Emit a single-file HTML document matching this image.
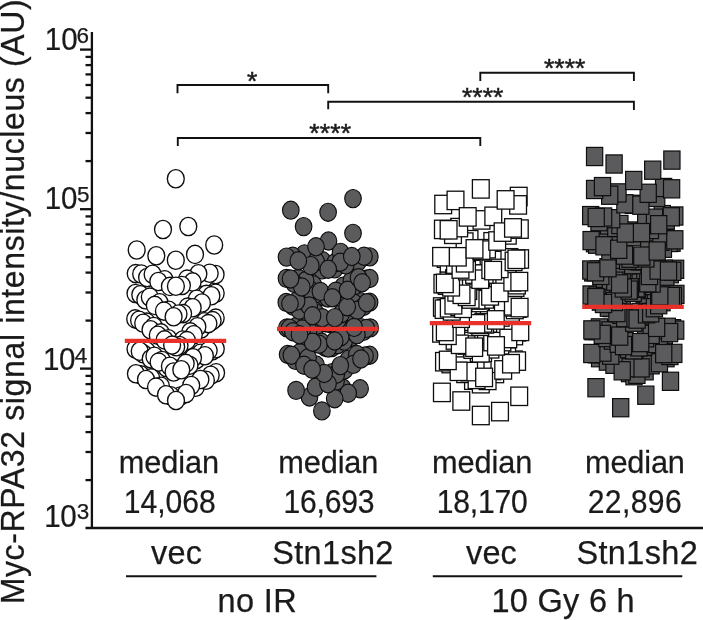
<!DOCTYPE html>
<html lang="en"><head><meta charset="utf-8"><title>Myc-RPA32 signal intensity</title>
<style>html,body{margin:0;padding:0;background:#fff}svg{display:block}svg text{font-family:"Liberation Sans",sans-serif;stroke:#1a1a1a;stroke-width:.25px}</style></head>
<body>
<svg width="703" height="620" viewBox="0 0 703 620" fill="#1a1a1a">
<rect width="703" height="620" fill="#fff"/>
<g id="g1">
<ellipse cx="175.8" cy="178.7" rx="8.45" ry="9.15" fill="#fff" stroke="#0d0d0d" stroke-width="1.35"/>
<ellipse cx="163.0" cy="229.5" rx="8.45" ry="9.15" fill="#fff" stroke="#0d0d0d" stroke-width="1.35"/>
<ellipse cx="188.3" cy="226.5" rx="8.45" ry="9.15" fill="#fff" stroke="#0d0d0d" stroke-width="1.35"/>
<ellipse cx="214.2" cy="245.0" rx="8.45" ry="9.15" fill="#fff" stroke="#0d0d0d" stroke-width="1.35"/>
<ellipse cx="136.7" cy="250.0" rx="8.45" ry="9.15" fill="#fff" stroke="#0d0d0d" stroke-width="1.35"/>
<ellipse cx="195.0" cy="254.4" rx="8.45" ry="9.15" fill="#fff" stroke="#0d0d0d" stroke-width="1.35"/>
<ellipse cx="175.8" cy="260.2" rx="8.45" ry="9.15" fill="#fff" stroke="#0d0d0d" stroke-width="1.35"/>
<ellipse cx="156.3" cy="255.7" rx="8.45" ry="9.15" fill="#fff" stroke="#0d0d0d" stroke-width="1.35"/>
<ellipse cx="135.7" cy="273.6" rx="8.45" ry="9.15" fill="#fff" stroke="#0d0d0d" stroke-width="1.35"/>
<ellipse cx="141.2" cy="274.0" rx="8.45" ry="9.15" fill="#fff" stroke="#0d0d0d" stroke-width="1.35"/>
<ellipse cx="215.6" cy="274.5" rx="8.45" ry="9.15" fill="#fff" stroke="#0d0d0d" stroke-width="1.35"/>
<ellipse cx="147.1" cy="277.5" rx="8.45" ry="9.15" fill="#fff" stroke="#0d0d0d" stroke-width="1.35"/>
<ellipse cx="152.6" cy="274.3" rx="8.45" ry="9.15" fill="#fff" stroke="#0d0d0d" stroke-width="1.35"/>
<ellipse cx="204.5" cy="278.0" rx="8.45" ry="9.15" fill="#fff" stroke="#0d0d0d" stroke-width="1.35"/>
<ellipse cx="209.7" cy="273.3" rx="8.45" ry="9.15" fill="#fff" stroke="#0d0d0d" stroke-width="1.35"/>
<ellipse cx="198.4" cy="273.8" rx="8.45" ry="9.15" fill="#fff" stroke="#0d0d0d" stroke-width="1.35"/>
<ellipse cx="187.1" cy="279.1" rx="8.45" ry="9.15" fill="#fff" stroke="#0d0d0d" stroke-width="1.35"/>
<ellipse cx="164.6" cy="279.8" rx="8.45" ry="9.15" fill="#fff" stroke="#0d0d0d" stroke-width="1.35"/>
<ellipse cx="158.3" cy="281.5" rx="8.45" ry="9.15" fill="#fff" stroke="#0d0d0d" stroke-width="1.35"/>
<ellipse cx="169.9" cy="286.4" rx="8.45" ry="9.15" fill="#fff" stroke="#0d0d0d" stroke-width="1.35"/>
<ellipse cx="192.6" cy="281.9" rx="8.45" ry="9.15" fill="#fff" stroke="#0d0d0d" stroke-width="1.35"/>
<ellipse cx="181.9" cy="285.5" rx="8.45" ry="9.15" fill="#fff" stroke="#0d0d0d" stroke-width="1.35"/>
<ellipse cx="175.9" cy="286.3" rx="8.45" ry="9.15" fill="#fff" stroke="#0d0d0d" stroke-width="1.35"/>
<ellipse cx="206.4" cy="294.4" rx="8.45" ry="9.15" fill="#fff" stroke="#0d0d0d" stroke-width="1.35"/>
<ellipse cx="215.7" cy="293.2" rx="8.45" ry="9.15" fill="#fff" stroke="#0d0d0d" stroke-width="1.35"/>
<ellipse cx="135.5" cy="293.5" rx="8.45" ry="9.15" fill="#fff" stroke="#0d0d0d" stroke-width="1.35"/>
<ellipse cx="140.3" cy="294.7" rx="8.45" ry="9.15" fill="#fff" stroke="#0d0d0d" stroke-width="1.35"/>
<ellipse cx="145.3" cy="299.7" rx="8.45" ry="9.15" fill="#fff" stroke="#0d0d0d" stroke-width="1.35"/>
<ellipse cx="211.4" cy="295.8" rx="8.45" ry="9.15" fill="#fff" stroke="#0d0d0d" stroke-width="1.35"/>
<ellipse cx="149.8" cy="297.1" rx="8.45" ry="9.15" fill="#fff" stroke="#0d0d0d" stroke-width="1.35"/>
<ellipse cx="159.6" cy="302.7" rx="8.45" ry="9.15" fill="#fff" stroke="#0d0d0d" stroke-width="1.35"/>
<ellipse cx="196.7" cy="299.2" rx="8.45" ry="9.15" fill="#fff" stroke="#0d0d0d" stroke-width="1.35"/>
<ellipse cx="154.8" cy="305.4" rx="8.45" ry="9.15" fill="#fff" stroke="#0d0d0d" stroke-width="1.35"/>
<ellipse cx="187.6" cy="307.1" rx="8.45" ry="9.15" fill="#fff" stroke="#0d0d0d" stroke-width="1.35"/>
<ellipse cx="201.9" cy="303.0" rx="8.45" ry="9.15" fill="#fff" stroke="#0d0d0d" stroke-width="1.35"/>
<ellipse cx="168.7" cy="310.2" rx="8.45" ry="9.15" fill="#fff" stroke="#0d0d0d" stroke-width="1.35"/>
<ellipse cx="192.7" cy="307.8" rx="8.45" ry="9.15" fill="#fff" stroke="#0d0d0d" stroke-width="1.35"/>
<ellipse cx="163.9" cy="311.1" rx="8.45" ry="9.15" fill="#fff" stroke="#0d0d0d" stroke-width="1.35"/>
<ellipse cx="183.1" cy="313.6" rx="8.45" ry="9.15" fill="#fff" stroke="#0d0d0d" stroke-width="1.35"/>
<ellipse cx="215.7" cy="318.1" rx="8.45" ry="9.15" fill="#fff" stroke="#0d0d0d" stroke-width="1.35"/>
<ellipse cx="178.5" cy="314.0" rx="8.45" ry="9.15" fill="#fff" stroke="#0d0d0d" stroke-width="1.35"/>
<ellipse cx="173.6" cy="316.7" rx="8.45" ry="9.15" fill="#fff" stroke="#0d0d0d" stroke-width="1.35"/>
<ellipse cx="135.2" cy="318.9" rx="8.45" ry="9.15" fill="#fff" stroke="#0d0d0d" stroke-width="1.35"/>
<ellipse cx="204.6" cy="321.8" rx="8.45" ry="9.15" fill="#fff" stroke="#0d0d0d" stroke-width="1.35"/>
<ellipse cx="146.6" cy="322.1" rx="8.45" ry="9.15" fill="#fff" stroke="#0d0d0d" stroke-width="1.35"/>
<ellipse cx="139.1" cy="320.2" rx="8.45" ry="9.15" fill="#fff" stroke="#0d0d0d" stroke-width="1.35"/>
<ellipse cx="143.2" cy="323.2" rx="8.45" ry="9.15" fill="#fff" stroke="#0d0d0d" stroke-width="1.35"/>
<ellipse cx="212.6" cy="320.6" rx="8.45" ry="9.15" fill="#fff" stroke="#0d0d0d" stroke-width="1.35"/>
<ellipse cx="201.1" cy="329.0" rx="8.45" ry="9.15" fill="#fff" stroke="#0d0d0d" stroke-width="1.35"/>
<ellipse cx="208.4" cy="323.6" rx="8.45" ry="9.15" fill="#fff" stroke="#0d0d0d" stroke-width="1.35"/>
<ellipse cx="153.8" cy="326.5" rx="8.45" ry="9.15" fill="#fff" stroke="#0d0d0d" stroke-width="1.35"/>
<ellipse cx="197.4" cy="326.7" rx="8.45" ry="9.15" fill="#fff" stroke="#0d0d0d" stroke-width="1.35"/>
<ellipse cx="150.5" cy="329.8" rx="8.45" ry="9.15" fill="#fff" stroke="#0d0d0d" stroke-width="1.35"/>
<ellipse cx="190.3" cy="331.9" rx="8.45" ry="9.15" fill="#fff" stroke="#0d0d0d" stroke-width="1.35"/>
<ellipse cx="160.9" cy="332.9" rx="8.45" ry="9.15" fill="#fff" stroke="#0d0d0d" stroke-width="1.35"/>
<ellipse cx="157.8" cy="335.3" rx="8.45" ry="9.15" fill="#fff" stroke="#0d0d0d" stroke-width="1.35"/>
<ellipse cx="193.8" cy="334.8" rx="8.45" ry="9.15" fill="#fff" stroke="#0d0d0d" stroke-width="1.35"/>
<ellipse cx="168.3" cy="338.7" rx="8.45" ry="9.15" fill="#fff" stroke="#0d0d0d" stroke-width="1.35"/>
<ellipse cx="182.8" cy="340.0" rx="8.45" ry="9.15" fill="#fff" stroke="#0d0d0d" stroke-width="1.35"/>
<ellipse cx="164.6" cy="339.9" rx="8.45" ry="9.15" fill="#fff" stroke="#0d0d0d" stroke-width="1.35"/>
<ellipse cx="187.0" cy="340.6" rx="8.45" ry="9.15" fill="#fff" stroke="#0d0d0d" stroke-width="1.35"/>
<ellipse cx="135.5" cy="349.0" rx="8.45" ry="9.15" fill="#fff" stroke="#0d0d0d" stroke-width="1.35"/>
<ellipse cx="179.5" cy="345.5" rx="8.45" ry="9.15" fill="#fff" stroke="#0d0d0d" stroke-width="1.35"/>
<ellipse cx="176.2" cy="346.8" rx="8.45" ry="9.15" fill="#fff" stroke="#0d0d0d" stroke-width="1.35"/>
<ellipse cx="172.1" cy="345.1" rx="8.45" ry="9.15" fill="#fff" stroke="#0d0d0d" stroke-width="1.35"/>
<ellipse cx="212.1" cy="351.0" rx="8.45" ry="9.15" fill="#fff" stroke="#0d0d0d" stroke-width="1.35"/>
<ellipse cx="215.8" cy="348.7" rx="8.45" ry="9.15" fill="#fff" stroke="#0d0d0d" stroke-width="1.35"/>
<ellipse cx="146.8" cy="351.2" rx="8.45" ry="9.15" fill="#fff" stroke="#0d0d0d" stroke-width="1.35"/>
<ellipse cx="143.2" cy="353.7" rx="8.45" ry="9.15" fill="#fff" stroke="#0d0d0d" stroke-width="1.35"/>
<ellipse cx="139.7" cy="351.3" rx="8.45" ry="9.15" fill="#fff" stroke="#0d0d0d" stroke-width="1.35"/>
<ellipse cx="200.5" cy="353.2" rx="8.45" ry="9.15" fill="#fff" stroke="#0d0d0d" stroke-width="1.35"/>
<ellipse cx="208.7" cy="350.6" rx="8.45" ry="9.15" fill="#fff" stroke="#0d0d0d" stroke-width="1.35"/>
<ellipse cx="150.7" cy="358.7" rx="8.45" ry="9.15" fill="#fff" stroke="#0d0d0d" stroke-width="1.35"/>
<ellipse cx="154.4" cy="356.2" rx="8.45" ry="9.15" fill="#fff" stroke="#0d0d0d" stroke-width="1.35"/>
<ellipse cx="196.5" cy="359.6" rx="8.45" ry="9.15" fill="#fff" stroke="#0d0d0d" stroke-width="1.35"/>
<ellipse cx="204.9" cy="355.8" rx="8.45" ry="9.15" fill="#fff" stroke="#0d0d0d" stroke-width="1.35"/>
<ellipse cx="193.0" cy="357.8" rx="8.45" ry="9.15" fill="#fff" stroke="#0d0d0d" stroke-width="1.35"/>
<ellipse cx="189.5" cy="365.3" rx="8.45" ry="9.15" fill="#fff" stroke="#0d0d0d" stroke-width="1.35"/>
<ellipse cx="166.6" cy="367.7" rx="8.45" ry="9.15" fill="#fff" stroke="#0d0d0d" stroke-width="1.35"/>
<ellipse cx="162.0" cy="360.5" rx="8.45" ry="9.15" fill="#fff" stroke="#0d0d0d" stroke-width="1.35"/>
<ellipse cx="158.6" cy="362.1" rx="8.45" ry="9.15" fill="#fff" stroke="#0d0d0d" stroke-width="1.35"/>
<ellipse cx="177.9" cy="369.4" rx="8.45" ry="9.15" fill="#fff" stroke="#0d0d0d" stroke-width="1.35"/>
<ellipse cx="185.7" cy="363.4" rx="8.45" ry="9.15" fill="#fff" stroke="#0d0d0d" stroke-width="1.35"/>
<ellipse cx="169.9" cy="366.2" rx="8.45" ry="9.15" fill="#fff" stroke="#0d0d0d" stroke-width="1.35"/>
<ellipse cx="216.1" cy="372.7" rx="8.45" ry="9.15" fill="#fff" stroke="#0d0d0d" stroke-width="1.35"/>
<ellipse cx="140.8" cy="374.9" rx="8.45" ry="9.15" fill="#fff" stroke="#0d0d0d" stroke-width="1.35"/>
<ellipse cx="173.6" cy="372.0" rx="8.45" ry="9.15" fill="#fff" stroke="#0d0d0d" stroke-width="1.35"/>
<ellipse cx="181.3" cy="369.8" rx="8.45" ry="9.15" fill="#fff" stroke="#0d0d0d" stroke-width="1.35"/>
<ellipse cx="135.9" cy="373.8" rx="8.45" ry="9.15" fill="#fff" stroke="#0d0d0d" stroke-width="1.35"/>
<ellipse cx="151.1" cy="377.9" rx="8.45" ry="9.15" fill="#fff" stroke="#0d0d0d" stroke-width="1.35"/>
<ellipse cx="146.0" cy="379.5" rx="8.45" ry="9.15" fill="#fff" stroke="#0d0d0d" stroke-width="1.35"/>
<ellipse cx="210.7" cy="375.2" rx="8.45" ry="9.15" fill="#fff" stroke="#0d0d0d" stroke-width="1.35"/>
<ellipse cx="161.0" cy="386.3" rx="8.45" ry="9.15" fill="#fff" stroke="#0d0d0d" stroke-width="1.35"/>
<ellipse cx="195.7" cy="387.2" rx="8.45" ry="9.15" fill="#fff" stroke="#0d0d0d" stroke-width="1.35"/>
<ellipse cx="205.9" cy="380.2" rx="8.45" ry="9.15" fill="#fff" stroke="#0d0d0d" stroke-width="1.35"/>
<ellipse cx="200.4" cy="379.5" rx="8.45" ry="9.15" fill="#fff" stroke="#0d0d0d" stroke-width="1.35"/>
<ellipse cx="191.2" cy="385.5" rx="8.45" ry="9.15" fill="#fff" stroke="#0d0d0d" stroke-width="1.35"/>
<ellipse cx="156.0" cy="387.1" rx="8.45" ry="9.15" fill="#fff" stroke="#0d0d0d" stroke-width="1.35"/>
<ellipse cx="180.5" cy="396.0" rx="8.45" ry="9.15" fill="#fff" stroke="#0d0d0d" stroke-width="1.35"/>
<ellipse cx="186.0" cy="393.5" rx="8.45" ry="9.15" fill="#fff" stroke="#0d0d0d" stroke-width="1.35"/>
<ellipse cx="170.7" cy="395.8" rx="8.45" ry="9.15" fill="#fff" stroke="#0d0d0d" stroke-width="1.35"/>
<ellipse cx="166.0" cy="394.8" rx="8.45" ry="9.15" fill="#fff" stroke="#0d0d0d" stroke-width="1.35"/>
<ellipse cx="176.0" cy="400.5" rx="8.45" ry="9.15" fill="#fff" stroke="#0d0d0d" stroke-width="1.35"/>
</g>
<g id="g2">
<ellipse cx="328.1" cy="379.3" rx="8.3" ry="9.1" fill="#5b5b5d" stroke="#0d0d0d" stroke-width="1.15"/>
<ellipse cx="342.6" cy="387.9" rx="8.3" ry="9.1" fill="#5b5b5d" stroke="#0d0d0d" stroke-width="1.15"/>
<ellipse cx="360.7" cy="327.6" rx="8.3" ry="9.1" fill="#5b5b5d" stroke="#0d0d0d" stroke-width="1.15"/>
<ellipse cx="298.3" cy="278.4" rx="8.3" ry="9.1" fill="#5b5b5d" stroke="#0d0d0d" stroke-width="1.15"/>
<ellipse cx="302.9" cy="304.4" rx="8.3" ry="9.1" fill="#5b5b5d" stroke="#0d0d0d" stroke-width="1.15"/>
<ellipse cx="344.3" cy="316.4" rx="8.3" ry="9.1" fill="#5b5b5d" stroke="#0d0d0d" stroke-width="1.15"/>
<ellipse cx="318.9" cy="320.3" rx="8.3" ry="9.1" fill="#5b5b5d" stroke="#0d0d0d" stroke-width="1.15"/>
<ellipse cx="309.5" cy="397.0" rx="8.3" ry="9.1" fill="#5b5b5d" stroke="#0d0d0d" stroke-width="1.15"/>
<ellipse cx="351.0" cy="337.5" rx="8.3" ry="9.1" fill="#5b5b5d" stroke="#0d0d0d" stroke-width="1.15"/>
<ellipse cx="324.7" cy="297.0" rx="8.3" ry="9.1" fill="#5b5b5d" stroke="#0d0d0d" stroke-width="1.15"/>
<ellipse cx="365.9" cy="279.3" rx="8.3" ry="9.1" fill="#5b5b5d" stroke="#0d0d0d" stroke-width="1.15"/>
<ellipse cx="316.9" cy="293.5" rx="8.3" ry="9.1" fill="#5b5b5d" stroke="#0d0d0d" stroke-width="1.15"/>
<ellipse cx="305.5" cy="313.5" rx="8.3" ry="9.1" fill="#5b5b5d" stroke="#0d0d0d" stroke-width="1.15"/>
<ellipse cx="315.5" cy="312.7" rx="8.3" ry="9.1" fill="#5b5b5d" stroke="#0d0d0d" stroke-width="1.15"/>
<ellipse cx="360.2" cy="301.8" rx="8.3" ry="9.1" fill="#5b5b5d" stroke="#0d0d0d" stroke-width="1.15"/>
<ellipse cx="321.0" cy="380.7" rx="8.3" ry="9.1" fill="#5b5b5d" stroke="#0d0d0d" stroke-width="1.15"/>
<ellipse cx="331.2" cy="323.7" rx="8.3" ry="9.1" fill="#5b5b5d" stroke="#0d0d0d" stroke-width="1.15"/>
<ellipse cx="322.0" cy="269.9" rx="8.3" ry="9.1" fill="#5b5b5d" stroke="#0d0d0d" stroke-width="1.15"/>
<ellipse cx="348.6" cy="359.3" rx="8.3" ry="9.1" fill="#5b5b5d" stroke="#0d0d0d" stroke-width="1.15"/>
<ellipse cx="328.5" cy="241.0" rx="8.3" ry="9.1" fill="#5b5b5d" stroke="#0d0d0d" stroke-width="1.15"/>
<ellipse cx="369.6" cy="355.3" rx="8.3" ry="9.1" fill="#5b5b5d" stroke="#0d0d0d" stroke-width="1.15"/>
<ellipse cx="331.7" cy="347.6" rx="8.3" ry="9.1" fill="#5b5b5d" stroke="#0d0d0d" stroke-width="1.15"/>
<ellipse cx="313.3" cy="284.7" rx="8.3" ry="9.1" fill="#5b5b5d" stroke="#0d0d0d" stroke-width="1.15"/>
<ellipse cx="360.1" cy="388.7" rx="8.3" ry="9.1" fill="#5b5b5d" stroke="#0d0d0d" stroke-width="1.15"/>
<ellipse cx="293.3" cy="306.4" rx="8.3" ry="9.1" fill="#5b5b5d" stroke="#0d0d0d" stroke-width="1.15"/>
<ellipse cx="322.5" cy="260.7" rx="8.3" ry="9.1" fill="#5b5b5d" stroke="#0d0d0d" stroke-width="1.15"/>
<ellipse cx="365.0" cy="355.9" rx="8.3" ry="9.1" fill="#5b5b5d" stroke="#0d0d0d" stroke-width="1.15"/>
<ellipse cx="337.5" cy="344.7" rx="8.3" ry="9.1" fill="#5b5b5d" stroke="#0d0d0d" stroke-width="1.15"/>
<ellipse cx="309.8" cy="289.9" rx="8.3" ry="9.1" fill="#5b5b5d" stroke="#0d0d0d" stroke-width="1.15"/>
<ellipse cx="321.9" cy="410.9" rx="8.3" ry="9.1" fill="#5b5b5d" stroke="#0d0d0d" stroke-width="1.15"/>
<ellipse cx="334.6" cy="268.9" rx="8.3" ry="9.1" fill="#5b5b5d" stroke="#0d0d0d" stroke-width="1.15"/>
<ellipse cx="325.5" cy="347.5" rx="8.3" ry="9.1" fill="#5b5b5d" stroke="#0d0d0d" stroke-width="1.15"/>
<ellipse cx="316.1" cy="365.0" rx="8.3" ry="9.1" fill="#5b5b5d" stroke="#0d0d0d" stroke-width="1.15"/>
<ellipse cx="336.0" cy="381.2" rx="8.3" ry="9.1" fill="#5b5b5d" stroke="#0d0d0d" stroke-width="1.15"/>
<ellipse cx="363.4" cy="331.4" rx="8.3" ry="9.1" fill="#5b5b5d" stroke="#0d0d0d" stroke-width="1.15"/>
<ellipse cx="332.2" cy="372.8" rx="8.3" ry="9.1" fill="#5b5b5d" stroke="#0d0d0d" stroke-width="1.15"/>
<ellipse cx="304.5" cy="253.9" rx="8.3" ry="9.1" fill="#5b5b5d" stroke="#0d0d0d" stroke-width="1.15"/>
<ellipse cx="296.4" cy="326.4" rx="8.3" ry="9.1" fill="#5b5b5d" stroke="#0d0d0d" stroke-width="1.15"/>
<ellipse cx="328.0" cy="298.0" rx="8.3" ry="9.1" fill="#5b5b5d" stroke="#0d0d0d" stroke-width="1.15"/>
<ellipse cx="292.7" cy="256.3" rx="8.3" ry="9.1" fill="#5b5b5d" stroke="#0d0d0d" stroke-width="1.15"/>
<ellipse cx="299.4" cy="310.3" rx="8.3" ry="9.1" fill="#5b5b5d" stroke="#0d0d0d" stroke-width="1.15"/>
<ellipse cx="348.2" cy="393.2" rx="8.3" ry="9.1" fill="#5b5b5d" stroke="#0d0d0d" stroke-width="1.15"/>
<ellipse cx="309.2" cy="306.0" rx="8.3" ry="9.1" fill="#5b5b5d" stroke="#0d0d0d" stroke-width="1.15"/>
<ellipse cx="295.4" cy="360.4" rx="8.3" ry="9.1" fill="#5b5b5d" stroke="#0d0d0d" stroke-width="1.15"/>
<ellipse cx="343.2" cy="286.3" rx="8.3" ry="9.1" fill="#5b5b5d" stroke="#0d0d0d" stroke-width="1.15"/>
<ellipse cx="286.5" cy="278.4" rx="8.3" ry="9.1" fill="#5b5b5d" stroke="#0d0d0d" stroke-width="1.15"/>
<ellipse cx="296.6" cy="301.1" rx="8.3" ry="9.1" fill="#5b5b5d" stroke="#0d0d0d" stroke-width="1.15"/>
<ellipse cx="305.6" cy="280.7" rx="8.3" ry="9.1" fill="#5b5b5d" stroke="#0d0d0d" stroke-width="1.15"/>
<ellipse cx="294.2" cy="283.5" rx="8.3" ry="9.1" fill="#5b5b5d" stroke="#0d0d0d" stroke-width="1.15"/>
<ellipse cx="315.3" cy="336.9" rx="8.3" ry="9.1" fill="#5b5b5d" stroke="#0d0d0d" stroke-width="1.15"/>
<ellipse cx="344.2" cy="341.1" rx="8.3" ry="9.1" fill="#5b5b5d" stroke="#0d0d0d" stroke-width="1.15"/>
<ellipse cx="335.0" cy="262.7" rx="8.3" ry="9.1" fill="#5b5b5d" stroke="#0d0d0d" stroke-width="1.15"/>
<ellipse cx="303.6" cy="226.6" rx="8.3" ry="9.1" fill="#5b5b5d" stroke="#0d0d0d" stroke-width="1.15"/>
<ellipse cx="321.6" cy="342.3" rx="8.3" ry="9.1" fill="#5b5b5d" stroke="#0d0d0d" stroke-width="1.15"/>
<ellipse cx="334.7" cy="398.8" rx="8.3" ry="9.1" fill="#5b5b5d" stroke="#0d0d0d" stroke-width="1.15"/>
<ellipse cx="370.2" cy="327.9" rx="8.3" ry="9.1" fill="#5b5b5d" stroke="#0d0d0d" stroke-width="1.15"/>
<ellipse cx="344.5" cy="369.9" rx="8.3" ry="9.1" fill="#5b5b5d" stroke="#0d0d0d" stroke-width="1.15"/>
<ellipse cx="328.3" cy="348.0" rx="8.3" ry="9.1" fill="#5b5b5d" stroke="#0d0d0d" stroke-width="1.15"/>
<ellipse cx="320.4" cy="291.4" rx="8.3" ry="9.1" fill="#5b5b5d" stroke="#0d0d0d" stroke-width="1.15"/>
<ellipse cx="286.9" cy="327.9" rx="8.3" ry="9.1" fill="#5b5b5d" stroke="#0d0d0d" stroke-width="1.15"/>
<ellipse cx="369.8" cy="278.5" rx="8.3" ry="9.1" fill="#5b5b5d" stroke="#0d0d0d" stroke-width="1.15"/>
<ellipse cx="340.6" cy="252.3" rx="8.3" ry="9.1" fill="#5b5b5d" stroke="#0d0d0d" stroke-width="1.15"/>
<ellipse cx="354.7" cy="285.7" rx="8.3" ry="9.1" fill="#5b5b5d" stroke="#0d0d0d" stroke-width="1.15"/>
<ellipse cx="305.7" cy="338.9" rx="8.3" ry="9.1" fill="#5b5b5d" stroke="#0d0d0d" stroke-width="1.15"/>
<ellipse cx="287.6" cy="354.5" rx="8.3" ry="9.1" fill="#5b5b5d" stroke="#0d0d0d" stroke-width="1.15"/>
<ellipse cx="357.9" cy="262.0" rx="8.3" ry="9.1" fill="#5b5b5d" stroke="#0d0d0d" stroke-width="1.15"/>
<ellipse cx="369.8" cy="256.9" rx="8.3" ry="9.1" fill="#5b5b5d" stroke="#0d0d0d" stroke-width="1.15"/>
<ellipse cx="336.3" cy="374.2" rx="8.3" ry="9.1" fill="#5b5b5d" stroke="#0d0d0d" stroke-width="1.15"/>
<ellipse cx="290.8" cy="210.2" rx="8.3" ry="9.1" fill="#5b5b5d" stroke="#0d0d0d" stroke-width="1.15"/>
<ellipse cx="351.4" cy="280.6" rx="8.3" ry="9.1" fill="#5b5b5d" stroke="#0d0d0d" stroke-width="1.15"/>
<ellipse cx="299.8" cy="352.7" rx="8.3" ry="9.1" fill="#5b5b5d" stroke="#0d0d0d" stroke-width="1.15"/>
<ellipse cx="286.3" cy="302.4" rx="8.3" ry="9.1" fill="#5b5b5d" stroke="#0d0d0d" stroke-width="1.15"/>
<ellipse cx="319.7" cy="374.8" rx="8.3" ry="9.1" fill="#5b5b5d" stroke="#0d0d0d" stroke-width="1.15"/>
<ellipse cx="308.7" cy="330.5" rx="8.3" ry="9.1" fill="#5b5b5d" stroke="#0d0d0d" stroke-width="1.15"/>
<ellipse cx="339.6" cy="293.2" rx="8.3" ry="9.1" fill="#5b5b5d" stroke="#0d0d0d" stroke-width="1.15"/>
<ellipse cx="315.6" cy="387.2" rx="8.3" ry="9.1" fill="#5b5b5d" stroke="#0d0d0d" stroke-width="1.15"/>
<ellipse cx="291.4" cy="355.3" rx="8.3" ry="9.1" fill="#5b5b5d" stroke="#0d0d0d" stroke-width="1.15"/>
<ellipse cx="316.1" cy="261.6" rx="8.3" ry="9.1" fill="#5b5b5d" stroke="#0d0d0d" stroke-width="1.15"/>
<ellipse cx="302.4" cy="329.0" rx="8.3" ry="9.1" fill="#5b5b5d" stroke="#0d0d0d" stroke-width="1.15"/>
<ellipse cx="345.8" cy="264.9" rx="8.3" ry="9.1" fill="#5b5b5d" stroke="#0d0d0d" stroke-width="1.15"/>
<ellipse cx="350.5" cy="312.3" rx="8.3" ry="9.1" fill="#5b5b5d" stroke="#0d0d0d" stroke-width="1.15"/>
<ellipse cx="316.0" cy="246.7" rx="8.3" ry="9.1" fill="#5b5b5d" stroke="#0d0d0d" stroke-width="1.15"/>
<ellipse cx="289.5" cy="328.2" rx="8.3" ry="9.1" fill="#5b5b5d" stroke="#0d0d0d" stroke-width="1.15"/>
<ellipse cx="347.1" cy="331.3" rx="8.3" ry="9.1" fill="#5b5b5d" stroke="#0d0d0d" stroke-width="1.15"/>
<ellipse cx="301.8" cy="287.0" rx="8.3" ry="9.1" fill="#5b5b5d" stroke="#0d0d0d" stroke-width="1.15"/>
<ellipse cx="335.7" cy="291.3" rx="8.3" ry="9.1" fill="#5b5b5d" stroke="#0d0d0d" stroke-width="1.15"/>
<ellipse cx="364.0" cy="256.3" rx="8.3" ry="9.1" fill="#5b5b5d" stroke="#0d0d0d" stroke-width="1.15"/>
<ellipse cx="356.8" cy="354.5" rx="8.3" ry="9.1" fill="#5b5b5d" stroke="#0d0d0d" stroke-width="1.15"/>
<ellipse cx="328.1" cy="212.3" rx="8.3" ry="9.1" fill="#5b5b5d" stroke="#0d0d0d" stroke-width="1.15"/>
<ellipse cx="354.1" cy="303.3" rx="8.3" ry="9.1" fill="#5b5b5d" stroke="#0d0d0d" stroke-width="1.15"/>
<ellipse cx="328.0" cy="383.7" rx="8.3" ry="9.1" fill="#5b5b5d" stroke="#0d0d0d" stroke-width="1.15"/>
<ellipse cx="325.3" cy="322.8" rx="8.3" ry="9.1" fill="#5b5b5d" stroke="#0d0d0d" stroke-width="1.15"/>
<ellipse cx="340.2" cy="262.2" rx="8.3" ry="9.1" fill="#5b5b5d" stroke="#0d0d0d" stroke-width="1.15"/>
<ellipse cx="286.5" cy="257.1" rx="8.3" ry="9.1" fill="#5b5b5d" stroke="#0d0d0d" stroke-width="1.15"/>
<ellipse cx="363.6" cy="306.5" rx="8.3" ry="9.1" fill="#5b5b5d" stroke="#0d0d0d" stroke-width="1.15"/>
<ellipse cx="319.1" cy="344.3" rx="8.3" ry="9.1" fill="#5b5b5d" stroke="#0d0d0d" stroke-width="1.15"/>
<ellipse cx="357.3" cy="310.3" rx="8.3" ry="9.1" fill="#5b5b5d" stroke="#0d0d0d" stroke-width="1.15"/>
<ellipse cx="308.0" cy="357.8" rx="8.3" ry="9.1" fill="#5b5b5d" stroke="#0d0d0d" stroke-width="1.15"/>
<ellipse cx="366.3" cy="328.4" rx="8.3" ry="9.1" fill="#5b5b5d" stroke="#0d0d0d" stroke-width="1.15"/>
<ellipse cx="338.0" cy="319.8" rx="8.3" ry="9.1" fill="#5b5b5d" stroke="#0d0d0d" stroke-width="1.15"/>
<ellipse cx="310.8" cy="265.6" rx="8.3" ry="9.1" fill="#5b5b5d" stroke="#0d0d0d" stroke-width="1.15"/>
<ellipse cx="296.1" cy="390.4" rx="8.3" ry="9.1" fill="#5b5b5d" stroke="#0d0d0d" stroke-width="1.15"/>
<ellipse cx="298.3" cy="260.8" rx="8.3" ry="9.1" fill="#5b5b5d" stroke="#0d0d0d" stroke-width="1.15"/>
<ellipse cx="290.0" cy="303.7" rx="8.3" ry="9.1" fill="#5b5b5d" stroke="#0d0d0d" stroke-width="1.15"/>
<ellipse cx="341.3" cy="313.8" rx="8.3" ry="9.1" fill="#5b5b5d" stroke="#0d0d0d" stroke-width="1.15"/>
<ellipse cx="347.2" cy="306.7" rx="8.3" ry="9.1" fill="#5b5b5d" stroke="#0d0d0d" stroke-width="1.15"/>
<ellipse cx="340.9" cy="336.8" rx="8.3" ry="9.1" fill="#5b5b5d" stroke="#0d0d0d" stroke-width="1.15"/>
<ellipse cx="328.0" cy="323.0" rx="8.3" ry="9.1" fill="#5b5b5d" stroke="#0d0d0d" stroke-width="1.15"/>
<ellipse cx="322.2" cy="317.7" rx="8.3" ry="9.1" fill="#5b5b5d" stroke="#0d0d0d" stroke-width="1.15"/>
<ellipse cx="347.6" cy="290.2" rx="8.3" ry="9.1" fill="#5b5b5d" stroke="#0d0d0d" stroke-width="1.15"/>
<ellipse cx="358.5" cy="277.7" rx="8.3" ry="9.1" fill="#5b5b5d" stroke="#0d0d0d" stroke-width="1.15"/>
<ellipse cx="351.8" cy="256.5" rx="8.3" ry="9.1" fill="#5b5b5d" stroke="#0d0d0d" stroke-width="1.15"/>
<ellipse cx="332.4" cy="297.7" rx="8.3" ry="9.1" fill="#5b5b5d" stroke="#0d0d0d" stroke-width="1.15"/>
<ellipse cx="353.3" cy="364.4" rx="8.3" ry="9.1" fill="#5b5b5d" stroke="#0d0d0d" stroke-width="1.15"/>
<ellipse cx="361.0" cy="359.0" rx="8.3" ry="9.1" fill="#5b5b5d" stroke="#0d0d0d" stroke-width="1.15"/>
<ellipse cx="324.2" cy="373.5" rx="8.3" ry="9.1" fill="#5b5b5d" stroke="#0d0d0d" stroke-width="1.15"/>
<ellipse cx="334.7" cy="341.0" rx="8.3" ry="9.1" fill="#5b5b5d" stroke="#0d0d0d" stroke-width="1.15"/>
<ellipse cx="292.9" cy="331.8" rx="8.3" ry="9.1" fill="#5b5b5d" stroke="#0d0d0d" stroke-width="1.15"/>
<ellipse cx="369.6" cy="302.3" rx="8.3" ry="9.1" fill="#5b5b5d" stroke="#0d0d0d" stroke-width="1.15"/>
<ellipse cx="356.9" cy="334.6" rx="8.3" ry="9.1" fill="#5b5b5d" stroke="#0d0d0d" stroke-width="1.15"/>
<ellipse cx="290.5" cy="279.0" rx="8.3" ry="9.1" fill="#5b5b5d" stroke="#0d0d0d" stroke-width="1.15"/>
<ellipse cx="312.5" cy="315.8" rx="8.3" ry="9.1" fill="#5b5b5d" stroke="#0d0d0d" stroke-width="1.15"/>
<ellipse cx="312.6" cy="342.2" rx="8.3" ry="9.1" fill="#5b5b5d" stroke="#0d0d0d" stroke-width="1.15"/>
<ellipse cx="362.1" cy="282.8" rx="8.3" ry="9.1" fill="#5b5b5d" stroke="#0d0d0d" stroke-width="1.15"/>
<ellipse cx="366.8" cy="302.8" rx="8.3" ry="9.1" fill="#5b5b5d" stroke="#0d0d0d" stroke-width="1.15"/>
<ellipse cx="328.2" cy="269.3" rx="8.3" ry="9.1" fill="#5b5b5d" stroke="#0d0d0d" stroke-width="1.15"/>
<ellipse cx="353.0" cy="233.3" rx="8.3" ry="9.1" fill="#5b5b5d" stroke="#0d0d0d" stroke-width="1.15"/>
<ellipse cx="354.1" cy="327.4" rx="8.3" ry="9.1" fill="#5b5b5d" stroke="#0d0d0d" stroke-width="1.15"/>
<ellipse cx="299.5" cy="334.8" rx="8.3" ry="9.1" fill="#5b5b5d" stroke="#0d0d0d" stroke-width="1.15"/>
<ellipse cx="304.0" cy="365.2" rx="8.3" ry="9.1" fill="#5b5b5d" stroke="#0d0d0d" stroke-width="1.15"/>
<ellipse cx="334.8" cy="317.6" rx="8.3" ry="9.1" fill="#5b5b5d" stroke="#0d0d0d" stroke-width="1.15"/>
<ellipse cx="353.0" cy="198.6" rx="8.3" ry="9.1" fill="#5b5b5d" stroke="#0d0d0d" stroke-width="1.15"/>
<ellipse cx="312.1" cy="369.2" rx="8.3" ry="9.1" fill="#5b5b5d" stroke="#0d0d0d" stroke-width="1.15"/>
<ellipse cx="340.3" cy="365.6" rx="8.3" ry="9.1" fill="#5b5b5d" stroke="#0d0d0d" stroke-width="1.15"/>
</g>
<g id="g3">
<rect x="491.6" y="402.4" width="16.8" height="18.4" fill="#fff" stroke="#0d0d0d" stroke-width="1.3"/>
<rect x="433.5" y="383.2" width="16.8" height="18.4" fill="#fff" stroke="#0d0d0d" stroke-width="1.3"/>
<rect x="452.9" y="391.8" width="16.8" height="18.4" fill="#fff" stroke="#0d0d0d" stroke-width="1.3"/>
<rect x="464.6" y="371.0" width="16.8" height="18.4" fill="#fff" stroke="#0d0d0d" stroke-width="1.3"/>
<rect x="472.4" y="406.3" width="16.8" height="18.4" fill="#fff" stroke="#0d0d0d" stroke-width="1.3"/>
<rect x="456.8" y="364.2" width="16.8" height="18.4" fill="#fff" stroke="#0d0d0d" stroke-width="1.3"/>
<rect x="505.5" y="351.0" width="16.8" height="18.4" fill="#fff" stroke="#0d0d0d" stroke-width="1.3"/>
<rect x="510.8" y="387.1" width="16.8" height="18.4" fill="#fff" stroke="#0d0d0d" stroke-width="1.3"/>
<rect x="486.8" y="364.3" width="16.8" height="18.4" fill="#fff" stroke="#0d0d0d" stroke-width="1.3"/>
<rect x="484.0" y="361.3" width="16.8" height="18.4" fill="#fff" stroke="#0d0d0d" stroke-width="1.3"/>
<rect x="498.7" y="347.8" width="16.8" height="18.4" fill="#fff" stroke="#0d0d0d" stroke-width="1.3"/>
<rect x="472.4" y="374.5" width="16.8" height="18.4" fill="#fff" stroke="#0d0d0d" stroke-width="1.3"/>
<rect x="479.2" y="371.2" width="16.8" height="18.4" fill="#fff" stroke="#0d0d0d" stroke-width="1.3"/>
<rect x="508.7" y="351.9" width="16.8" height="18.4" fill="#fff" stroke="#0d0d0d" stroke-width="1.3"/>
<rect x="442.0" y="354.4" width="16.8" height="18.4" fill="#fff" stroke="#0d0d0d" stroke-width="1.3"/>
<rect x="446.7" y="351.2" width="16.8" height="18.4" fill="#fff" stroke="#0d0d0d" stroke-width="1.3"/>
<rect x="435.6" y="352.5" width="16.8" height="18.4" fill="#fff" stroke="#0d0d0d" stroke-width="1.3"/>
<rect x="479.1" y="339.6" width="16.8" height="18.4" fill="#fff" stroke="#0d0d0d" stroke-width="1.3"/>
<rect x="470.1" y="343.3" width="16.8" height="18.4" fill="#fff" stroke="#0d0d0d" stroke-width="1.3"/>
<rect x="491.0" y="354.1" width="16.8" height="18.4" fill="#fff" stroke="#0d0d0d" stroke-width="1.3"/>
<rect x="474.7" y="343.2" width="16.8" height="18.4" fill="#fff" stroke="#0d0d0d" stroke-width="1.3"/>
<rect x="468.2" y="370.2" width="16.8" height="18.4" fill="#fff" stroke="#0d0d0d" stroke-width="1.3"/>
<rect x="453.5" y="356.9" width="16.8" height="18.4" fill="#fff" stroke="#0d0d0d" stroke-width="1.3"/>
<rect x="460.7" y="362.4" width="16.8" height="18.4" fill="#fff" stroke="#0d0d0d" stroke-width="1.3"/>
<rect x="475.7" y="368.2" width="16.8" height="18.4" fill="#fff" stroke="#0d0d0d" stroke-width="1.3"/>
<rect x="450.2" y="362.1" width="16.8" height="18.4" fill="#fff" stroke="#0d0d0d" stroke-width="1.3"/>
<rect x="482.0" y="339.6" width="16.8" height="18.4" fill="#fff" stroke="#0d0d0d" stroke-width="1.3"/>
<rect x="464.0" y="340.0" width="16.8" height="18.4" fill="#fff" stroke="#0d0d0d" stroke-width="1.3"/>
<rect x="490.5" y="326.6" width="16.8" height="18.4" fill="#fff" stroke="#0d0d0d" stroke-width="1.3"/>
<rect x="494.8" y="360.7" width="16.8" height="18.4" fill="#fff" stroke="#0d0d0d" stroke-width="1.3"/>
<rect x="441.8" y="322.3" width="16.8" height="18.4" fill="#fff" stroke="#0d0d0d" stroke-width="1.3"/>
<rect x="502.6" y="354.5" width="16.8" height="18.4" fill="#fff" stroke="#0d0d0d" stroke-width="1.3"/>
<rect x="446.2" y="330.8" width="16.8" height="18.4" fill="#fff" stroke="#0d0d0d" stroke-width="1.3"/>
<rect x="502.5" y="320.7" width="16.8" height="18.4" fill="#fff" stroke="#0d0d0d" stroke-width="1.3"/>
<rect x="453.9" y="327.2" width="16.8" height="18.4" fill="#fff" stroke="#0d0d0d" stroke-width="1.3"/>
<rect x="494.0" y="332.4" width="16.8" height="18.4" fill="#fff" stroke="#0d0d0d" stroke-width="1.3"/>
<rect x="439.4" y="351.2" width="16.8" height="18.4" fill="#fff" stroke="#0d0d0d" stroke-width="1.3"/>
<rect x="482.4" y="313.8" width="16.8" height="18.4" fill="#fff" stroke="#0d0d0d" stroke-width="1.3"/>
<rect x="462.3" y="314.3" width="16.8" height="18.4" fill="#fff" stroke="#0d0d0d" stroke-width="1.3"/>
<rect x="460.8" y="332.3" width="16.8" height="18.4" fill="#fff" stroke="#0d0d0d" stroke-width="1.3"/>
<rect x="472.4" y="343.6" width="16.8" height="18.4" fill="#fff" stroke="#0d0d0d" stroke-width="1.3"/>
<rect x="458.3" y="312.0" width="16.8" height="18.4" fill="#fff" stroke="#0d0d0d" stroke-width="1.3"/>
<rect x="508.8" y="322.6" width="16.8" height="18.4" fill="#fff" stroke="#0d0d0d" stroke-width="1.3"/>
<rect x="465.5" y="308.6" width="16.8" height="18.4" fill="#fff" stroke="#0d0d0d" stroke-width="1.3"/>
<rect x="496.3" y="305.9" width="16.8" height="18.4" fill="#fff" stroke="#0d0d0d" stroke-width="1.3"/>
<rect x="447.9" y="324.0" width="16.8" height="18.4" fill="#fff" stroke="#0d0d0d" stroke-width="1.3"/>
<rect x="458.1" y="335.8" width="16.8" height="18.4" fill="#fff" stroke="#0d0d0d" stroke-width="1.3"/>
<rect x="505.8" y="326.4" width="16.8" height="18.4" fill="#fff" stroke="#0d0d0d" stroke-width="1.3"/>
<rect x="447.1" y="304.8" width="16.8" height="18.4" fill="#fff" stroke="#0d0d0d" stroke-width="1.3"/>
<rect x="432.7" y="323.7" width="16.8" height="18.4" fill="#fff" stroke="#0d0d0d" stroke-width="1.3"/>
<rect x="485.3" y="305.8" width="16.8" height="18.4" fill="#fff" stroke="#0d0d0d" stroke-width="1.3"/>
<rect x="451.4" y="335.1" width="16.8" height="18.4" fill="#fff" stroke="#0d0d0d" stroke-width="1.3"/>
<rect x="465.8" y="338.0" width="16.8" height="18.4" fill="#fff" stroke="#0d0d0d" stroke-width="1.3"/>
<rect x="496.6" y="321.5" width="16.8" height="18.4" fill="#fff" stroke="#0d0d0d" stroke-width="1.3"/>
<rect x="439.4" y="326.1" width="16.8" height="18.4" fill="#fff" stroke="#0d0d0d" stroke-width="1.3"/>
<rect x="483.8" y="332.4" width="16.8" height="18.4" fill="#fff" stroke="#0d0d0d" stroke-width="1.3"/>
<rect x="459.3" y="307.2" width="16.8" height="18.4" fill="#fff" stroke="#0d0d0d" stroke-width="1.3"/>
<rect x="480.4" y="308.0" width="16.8" height="18.4" fill="#fff" stroke="#0d0d0d" stroke-width="1.3"/>
<rect x="433.5" y="297.8" width="16.8" height="18.4" fill="#fff" stroke="#0d0d0d" stroke-width="1.3"/>
<rect x="499.9" y="329.3" width="16.8" height="18.4" fill="#fff" stroke="#0d0d0d" stroke-width="1.3"/>
<rect x="492.3" y="307.8" width="16.8" height="18.4" fill="#fff" stroke="#0d0d0d" stroke-width="1.3"/>
<rect x="487.6" y="336.7" width="16.8" height="18.4" fill="#fff" stroke="#0d0d0d" stroke-width="1.3"/>
<rect x="489.4" y="301.1" width="16.8" height="18.4" fill="#fff" stroke="#0d0d0d" stroke-width="1.3"/>
<rect x="502.5" y="302.9" width="16.8" height="18.4" fill="#fff" stroke="#0d0d0d" stroke-width="1.3"/>
<rect x="471.9" y="317.1" width="16.8" height="18.4" fill="#fff" stroke="#0d0d0d" stroke-width="1.3"/>
<rect x="476.7" y="314.7" width="16.8" height="18.4" fill="#fff" stroke="#0d0d0d" stroke-width="1.3"/>
<rect x="511.9" y="322.2" width="16.8" height="18.4" fill="#fff" stroke="#0d0d0d" stroke-width="1.3"/>
<rect x="499.1" y="296.9" width="16.8" height="18.4" fill="#fff" stroke="#0d0d0d" stroke-width="1.3"/>
<rect x="436.4" y="322.3" width="16.8" height="18.4" fill="#fff" stroke="#0d0d0d" stroke-width="1.3"/>
<rect x="509.3" y="298.9" width="16.8" height="18.4" fill="#fff" stroke="#0d0d0d" stroke-width="1.3"/>
<rect x="506.4" y="300.3" width="16.8" height="18.4" fill="#fff" stroke="#0d0d0d" stroke-width="1.3"/>
<rect x="486.7" y="284.9" width="16.8" height="18.4" fill="#fff" stroke="#0d0d0d" stroke-width="1.3"/>
<rect x="437.8" y="299.4" width="16.8" height="18.4" fill="#fff" stroke="#0d0d0d" stroke-width="1.3"/>
<rect x="479.9" y="286.0" width="16.8" height="18.4" fill="#fff" stroke="#0d0d0d" stroke-width="1.3"/>
<rect x="471.8" y="293.3" width="16.8" height="18.4" fill="#fff" stroke="#0d0d0d" stroke-width="1.3"/>
<rect x="470.5" y="315.1" width="16.8" height="18.4" fill="#fff" stroke="#0d0d0d" stroke-width="1.3"/>
<rect x="494.5" y="297.7" width="16.8" height="18.4" fill="#fff" stroke="#0d0d0d" stroke-width="1.3"/>
<rect x="474.4" y="288.4" width="16.8" height="18.4" fill="#fff" stroke="#0d0d0d" stroke-width="1.3"/>
<rect x="474.9" y="313.7" width="16.8" height="18.4" fill="#fff" stroke="#0d0d0d" stroke-width="1.3"/>
<rect x="487.4" y="310.7" width="16.8" height="18.4" fill="#fff" stroke="#0d0d0d" stroke-width="1.3"/>
<rect x="467.9" y="314.6" width="16.8" height="18.4" fill="#fff" stroke="#0d0d0d" stroke-width="1.3"/>
<rect x="502.4" y="278.1" width="16.8" height="18.4" fill="#fff" stroke="#0d0d0d" stroke-width="1.3"/>
<rect x="496.2" y="281.8" width="16.8" height="18.4" fill="#fff" stroke="#0d0d0d" stroke-width="1.3"/>
<rect x="484.9" y="280.6" width="16.8" height="18.4" fill="#fff" stroke="#0d0d0d" stroke-width="1.3"/>
<rect x="435.2" y="300.0" width="16.8" height="18.4" fill="#fff" stroke="#0d0d0d" stroke-width="1.3"/>
<rect x="489.5" y="274.9" width="16.8" height="18.4" fill="#fff" stroke="#0d0d0d" stroke-width="1.3"/>
<rect x="498.9" y="271.4" width="16.8" height="18.4" fill="#fff" stroke="#0d0d0d" stroke-width="1.3"/>
<rect x="452.6" y="309.0" width="16.8" height="18.4" fill="#fff" stroke="#0d0d0d" stroke-width="1.3"/>
<rect x="443.4" y="301.7" width="16.8" height="18.4" fill="#fff" stroke="#0d0d0d" stroke-width="1.3"/>
<rect x="470.4" y="290.7" width="16.8" height="18.4" fill="#fff" stroke="#0d0d0d" stroke-width="1.3"/>
<rect x="465.8" y="284.5" width="16.8" height="18.4" fill="#fff" stroke="#0d0d0d" stroke-width="1.3"/>
<rect x="504.5" y="296.6" width="16.8" height="18.4" fill="#fff" stroke="#0d0d0d" stroke-width="1.3"/>
<rect x="440.4" y="298.6" width="16.8" height="18.4" fill="#fff" stroke="#0d0d0d" stroke-width="1.3"/>
<rect x="476.7" y="289.7" width="16.8" height="18.4" fill="#fff" stroke="#0d0d0d" stroke-width="1.3"/>
<rect x="438.4" y="276.0" width="16.8" height="18.4" fill="#fff" stroke="#0d0d0d" stroke-width="1.3"/>
<rect x="440.2" y="271.8" width="16.8" height="18.4" fill="#fff" stroke="#0d0d0d" stroke-width="1.3"/>
<rect x="434.0" y="274.5" width="16.8" height="18.4" fill="#fff" stroke="#0d0d0d" stroke-width="1.3"/>
<rect x="450.9" y="297.2" width="16.8" height="18.4" fill="#fff" stroke="#0d0d0d" stroke-width="1.3"/>
<rect x="455.3" y="279.5" width="16.8" height="18.4" fill="#fff" stroke="#0d0d0d" stroke-width="1.3"/>
<rect x="468.1" y="290.5" width="16.8" height="18.4" fill="#fff" stroke="#0d0d0d" stroke-width="1.3"/>
<rect x="454.6" y="299.1" width="16.8" height="18.4" fill="#fff" stroke="#0d0d0d" stroke-width="1.3"/>
<rect x="494.6" y="272.6" width="16.8" height="18.4" fill="#fff" stroke="#0d0d0d" stroke-width="1.3"/>
<rect x="445.0" y="295.6" width="16.8" height="18.4" fill="#fff" stroke="#0d0d0d" stroke-width="1.3"/>
<rect x="511.2" y="298.4" width="16.8" height="18.4" fill="#fff" stroke="#0d0d0d" stroke-width="1.3"/>
<rect x="479.1" y="265.1" width="16.8" height="18.4" fill="#fff" stroke="#0d0d0d" stroke-width="1.3"/>
<rect x="447.9" y="282.7" width="16.8" height="18.4" fill="#fff" stroke="#0d0d0d" stroke-width="1.3"/>
<rect x="462.2" y="289.8" width="16.8" height="18.4" fill="#fff" stroke="#0d0d0d" stroke-width="1.3"/>
<rect x="459.9" y="281.1" width="16.8" height="18.4" fill="#fff" stroke="#0d0d0d" stroke-width="1.3"/>
<rect x="458.3" y="287.2" width="16.8" height="18.4" fill="#fff" stroke="#0d0d0d" stroke-width="1.3"/>
<rect x="495.9" y="250.9" width="16.8" height="18.4" fill="#fff" stroke="#0d0d0d" stroke-width="1.3"/>
<rect x="507.1" y="278.0" width="16.8" height="18.4" fill="#fff" stroke="#0d0d0d" stroke-width="1.3"/>
<rect x="463.4" y="260.4" width="16.8" height="18.4" fill="#fff" stroke="#0d0d0d" stroke-width="1.3"/>
<rect x="442.8" y="249.3" width="16.8" height="18.4" fill="#fff" stroke="#0d0d0d" stroke-width="1.3"/>
<rect x="481.7" y="286.7" width="16.8" height="18.4" fill="#fff" stroke="#0d0d0d" stroke-width="1.3"/>
<rect x="469.1" y="265.7" width="16.8" height="18.4" fill="#fff" stroke="#0d0d0d" stroke-width="1.3"/>
<rect x="450.0" y="275.0" width="16.8" height="18.4" fill="#fff" stroke="#0d0d0d" stroke-width="1.3"/>
<rect x="508.5" y="275.5" width="16.8" height="18.4" fill="#fff" stroke="#0d0d0d" stroke-width="1.3"/>
<rect x="437.3" y="249.0" width="16.8" height="18.4" fill="#fff" stroke="#0d0d0d" stroke-width="1.3"/>
<rect x="499.2" y="254.9" width="16.8" height="18.4" fill="#fff" stroke="#0d0d0d" stroke-width="1.3"/>
<rect x="440.3" y="253.6" width="16.8" height="18.4" fill="#fff" stroke="#0d0d0d" stroke-width="1.3"/>
<rect x="491.3" y="283.2" width="16.8" height="18.4" fill="#fff" stroke="#0d0d0d" stroke-width="1.3"/>
<rect x="503.9" y="272.6" width="16.8" height="18.4" fill="#fff" stroke="#0d0d0d" stroke-width="1.3"/>
<rect x="445.7" y="269.8" width="16.8" height="18.4" fill="#fff" stroke="#0d0d0d" stroke-width="1.3"/>
<rect x="453.1" y="285.1" width="16.8" height="18.4" fill="#fff" stroke="#0d0d0d" stroke-width="1.3"/>
<rect x="476.2" y="264.8" width="16.8" height="18.4" fill="#fff" stroke="#0d0d0d" stroke-width="1.3"/>
<rect x="488.2" y="251.3" width="16.8" height="18.4" fill="#fff" stroke="#0d0d0d" stroke-width="1.3"/>
<rect x="465.7" y="264.9" width="16.8" height="18.4" fill="#fff" stroke="#0d0d0d" stroke-width="1.3"/>
<rect x="446.6" y="254.9" width="16.8" height="18.4" fill="#fff" stroke="#0d0d0d" stroke-width="1.3"/>
<rect x="510.9" y="272.4" width="16.8" height="18.4" fill="#fff" stroke="#0d0d0d" stroke-width="1.3"/>
<rect x="501.0" y="248.6" width="16.8" height="18.4" fill="#fff" stroke="#0d0d0d" stroke-width="1.3"/>
<rect x="442.7" y="277.6" width="16.8" height="18.4" fill="#fff" stroke="#0d0d0d" stroke-width="1.3"/>
<rect x="432.7" y="247.5" width="16.8" height="18.4" fill="#fff" stroke="#0d0d0d" stroke-width="1.3"/>
<rect x="436.4" y="274.2" width="16.8" height="18.4" fill="#fff" stroke="#0d0d0d" stroke-width="1.3"/>
<rect x="471.9" y="270.0" width="16.8" height="18.4" fill="#fff" stroke="#0d0d0d" stroke-width="1.3"/>
<rect x="483.9" y="232.6" width="16.8" height="18.4" fill="#fff" stroke="#0d0d0d" stroke-width="1.3"/>
<rect x="481.9" y="260.1" width="16.8" height="18.4" fill="#fff" stroke="#0d0d0d" stroke-width="1.3"/>
<rect x="458.6" y="261.5" width="16.8" height="18.4" fill="#fff" stroke="#0d0d0d" stroke-width="1.3"/>
<rect x="452.1" y="259.8" width="16.8" height="18.4" fill="#fff" stroke="#0d0d0d" stroke-width="1.3"/>
<rect x="461.1" y="230.5" width="16.8" height="18.4" fill="#fff" stroke="#0d0d0d" stroke-width="1.3"/>
<rect x="491.2" y="259.2" width="16.8" height="18.4" fill="#fff" stroke="#0d0d0d" stroke-width="1.3"/>
<rect x="456.2" y="232.9" width="16.8" height="18.4" fill="#fff" stroke="#0d0d0d" stroke-width="1.3"/>
<rect x="505.2" y="252.2" width="16.8" height="18.4" fill="#fff" stroke="#0d0d0d" stroke-width="1.3"/>
<rect x="484.7" y="261.4" width="16.8" height="18.4" fill="#fff" stroke="#0d0d0d" stroke-width="1.3"/>
<rect x="444.6" y="225.1" width="16.8" height="18.4" fill="#fff" stroke="#0d0d0d" stroke-width="1.3"/>
<rect x="511.7" y="249.8" width="16.8" height="18.4" fill="#fff" stroke="#0d0d0d" stroke-width="1.3"/>
<rect x="456.4" y="253.6" width="16.8" height="18.4" fill="#fff" stroke="#0d0d0d" stroke-width="1.3"/>
<rect x="449.4" y="247.6" width="16.8" height="18.4" fill="#fff" stroke="#0d0d0d" stroke-width="1.3"/>
<rect x="508.0" y="250.1" width="16.8" height="18.4" fill="#fff" stroke="#0d0d0d" stroke-width="1.3"/>
<rect x="478.6" y="239.5" width="16.8" height="18.4" fill="#fff" stroke="#0d0d0d" stroke-width="1.3"/>
<rect x="473.1" y="240.9" width="16.8" height="18.4" fill="#fff" stroke="#0d0d0d" stroke-width="1.3"/>
<rect x="499.4" y="225.7" width="16.8" height="18.4" fill="#fff" stroke="#0d0d0d" stroke-width="1.3"/>
<rect x="450.8" y="218.4" width="16.8" height="18.4" fill="#fff" stroke="#0d0d0d" stroke-width="1.3"/>
<rect x="473.1" y="210.7" width="16.8" height="18.4" fill="#fff" stroke="#0d0d0d" stroke-width="1.3"/>
<rect x="466.1" y="239.7" width="16.8" height="18.4" fill="#fff" stroke="#0d0d0d" stroke-width="1.3"/>
<rect x="511.4" y="219.9" width="16.8" height="18.4" fill="#fff" stroke="#0d0d0d" stroke-width="1.3"/>
<rect x="484.9" y="207.1" width="16.8" height="18.4" fill="#fff" stroke="#0d0d0d" stroke-width="1.3"/>
<rect x="434.8" y="195.3" width="16.8" height="18.4" fill="#fff" stroke="#0d0d0d" stroke-width="1.3"/>
<rect x="488.8" y="231.8" width="16.8" height="18.4" fill="#fff" stroke="#0d0d0d" stroke-width="1.3"/>
<rect x="434.5" y="220.2" width="16.8" height="18.4" fill="#fff" stroke="#0d0d0d" stroke-width="1.3"/>
<rect x="494.2" y="222.9" width="16.8" height="18.4" fill="#fff" stroke="#0d0d0d" stroke-width="1.3"/>
<rect x="504.6" y="218.7" width="16.8" height="18.4" fill="#fff" stroke="#0d0d0d" stroke-width="1.3"/>
<rect x="440.2" y="220.6" width="16.8" height="18.4" fill="#fff" stroke="#0d0d0d" stroke-width="1.3"/>
<rect x="510.3" y="187.3" width="16.8" height="18.4" fill="#fff" stroke="#0d0d0d" stroke-width="1.3"/>
<rect x="509.7" y="195.7" width="16.8" height="18.4" fill="#fff" stroke="#0d0d0d" stroke-width="1.3"/>
<rect x="447.1" y="191.2" width="16.8" height="18.4" fill="#fff" stroke="#0d0d0d" stroke-width="1.3"/>
<rect x="459.3" y="207.7" width="16.8" height="18.4" fill="#fff" stroke="#0d0d0d" stroke-width="1.3"/>
<rect x="497.2" y="190.7" width="16.8" height="18.4" fill="#fff" stroke="#0d0d0d" stroke-width="1.3"/>
<rect x="472.4" y="179.7" width="16.8" height="18.4" fill="#fff" stroke="#0d0d0d" stroke-width="1.3"/>
</g>
<g id="g4">
<rect x="612.6" y="398.6" width="16.2" height="18.2" fill="#5b5b5d" stroke="#0d0d0d" stroke-width="1.2"/>
<rect x="587.9" y="378.6" width="16.2" height="18.2" fill="#5b5b5d" stroke="#0d0d0d" stroke-width="1.2"/>
<rect x="621.4" y="363.5" width="16.2" height="18.2" fill="#5b5b5d" stroke="#0d0d0d" stroke-width="1.2"/>
<rect x="625.9" y="366.6" width="16.2" height="18.2" fill="#5b5b5d" stroke="#0d0d0d" stroke-width="1.2"/>
<rect x="637.0" y="361.7" width="16.2" height="18.2" fill="#5b5b5d" stroke="#0d0d0d" stroke-width="1.2"/>
<rect x="591.5" y="348.6" width="16.2" height="18.2" fill="#5b5b5d" stroke="#0d0d0d" stroke-width="1.2"/>
<rect x="640.8" y="350.5" width="16.2" height="18.2" fill="#5b5b5d" stroke="#0d0d0d" stroke-width="1.2"/>
<rect x="610.0" y="349.5" width="16.2" height="18.2" fill="#5b5b5d" stroke="#0d0d0d" stroke-width="1.2"/>
<rect x="637.7" y="386.1" width="16.2" height="18.2" fill="#5b5b5d" stroke="#0d0d0d" stroke-width="1.2"/>
<rect x="628.8" y="365.2" width="16.2" height="18.2" fill="#5b5b5d" stroke="#0d0d0d" stroke-width="1.2"/>
<rect x="657.9" y="348.6" width="16.2" height="18.2" fill="#5b5b5d" stroke="#0d0d0d" stroke-width="1.2"/>
<rect x="646.8" y="346.0" width="16.2" height="18.2" fill="#5b5b5d" stroke="#0d0d0d" stroke-width="1.2"/>
<rect x="643.0" y="355.7" width="16.2" height="18.2" fill="#5b5b5d" stroke="#0d0d0d" stroke-width="1.2"/>
<rect x="633.0" y="358.8" width="16.2" height="18.2" fill="#5b5b5d" stroke="#0d0d0d" stroke-width="1.2"/>
<rect x="588.4" y="344.7" width="16.2" height="18.2" fill="#5b5b5d" stroke="#0d0d0d" stroke-width="1.2"/>
<rect x="662.4" y="372.2" width="16.2" height="18.2" fill="#5b5b5d" stroke="#0d0d0d" stroke-width="1.2"/>
<rect x="627.9" y="338.0" width="16.2" height="18.2" fill="#5b5b5d" stroke="#0d0d0d" stroke-width="1.2"/>
<rect x="646.6" y="331.2" width="16.2" height="18.2" fill="#5b5b5d" stroke="#0d0d0d" stroke-width="1.2"/>
<rect x="651.3" y="353.6" width="16.2" height="18.2" fill="#5b5b5d" stroke="#0d0d0d" stroke-width="1.2"/>
<rect x="617.8" y="358.7" width="16.2" height="18.2" fill="#5b5b5d" stroke="#0d0d0d" stroke-width="1.2"/>
<rect x="599.3" y="352.0" width="16.2" height="18.2" fill="#5b5b5d" stroke="#0d0d0d" stroke-width="1.2"/>
<rect x="605.9" y="355.2" width="16.2" height="18.2" fill="#5b5b5d" stroke="#0d0d0d" stroke-width="1.2"/>
<rect x="614.1" y="361.7" width="16.2" height="18.2" fill="#5b5b5d" stroke="#0d0d0d" stroke-width="1.2"/>
<rect x="602.6" y="346.1" width="16.2" height="18.2" fill="#5b5b5d" stroke="#0d0d0d" stroke-width="1.2"/>
<rect x="656.2" y="325.7" width="16.2" height="18.2" fill="#5b5b5d" stroke="#0d0d0d" stroke-width="1.2"/>
<rect x="661.8" y="346.4" width="16.2" height="18.2" fill="#5b5b5d" stroke="#0d0d0d" stroke-width="1.2"/>
<rect x="606.5" y="325.6" width="16.2" height="18.2" fill="#5b5b5d" stroke="#0d0d0d" stroke-width="1.2"/>
<rect x="596.0" y="320.2" width="16.2" height="18.2" fill="#5b5b5d" stroke="#0d0d0d" stroke-width="1.2"/>
<rect x="622.2" y="336.6" width="16.2" height="18.2" fill="#5b5b5d" stroke="#0d0d0d" stroke-width="1.2"/>
<rect x="651.4" y="328.9" width="16.2" height="18.2" fill="#5b5b5d" stroke="#0d0d0d" stroke-width="1.2"/>
<rect x="617.0" y="332.5" width="16.2" height="18.2" fill="#5b5b5d" stroke="#0d0d0d" stroke-width="1.2"/>
<rect x="664.4" y="319.6" width="16.2" height="18.2" fill="#5b5b5d" stroke="#0d0d0d" stroke-width="1.2"/>
<rect x="667.6" y="321.0" width="16.2" height="18.2" fill="#5b5b5d" stroke="#0d0d0d" stroke-width="1.2"/>
<rect x="594.8" y="343.0" width="16.2" height="18.2" fill="#5b5b5d" stroke="#0d0d0d" stroke-width="1.2"/>
<rect x="635.7" y="336.9" width="16.2" height="18.2" fill="#5b5b5d" stroke="#0d0d0d" stroke-width="1.2"/>
<rect x="588.9" y="321.4" width="16.2" height="18.2" fill="#5b5b5d" stroke="#0d0d0d" stroke-width="1.2"/>
<rect x="583.7" y="344.4" width="16.2" height="18.2" fill="#5b5b5d" stroke="#0d0d0d" stroke-width="1.2"/>
<rect x="654.4" y="320.8" width="16.2" height="18.2" fill="#5b5b5d" stroke="#0d0d0d" stroke-width="1.2"/>
<rect x="665.7" y="344.3" width="16.2" height="18.2" fill="#5b5b5d" stroke="#0d0d0d" stroke-width="1.2"/>
<rect x="641.3" y="334.4" width="16.2" height="18.2" fill="#5b5b5d" stroke="#0d0d0d" stroke-width="1.2"/>
<rect x="604.3" y="331.0" width="16.2" height="18.2" fill="#5b5b5d" stroke="#0d0d0d" stroke-width="1.2"/>
<rect x="620.6" y="339.5" width="16.2" height="18.2" fill="#5b5b5d" stroke="#0d0d0d" stroke-width="1.2"/>
<rect x="625.7" y="340.7" width="16.2" height="18.2" fill="#5b5b5d" stroke="#0d0d0d" stroke-width="1.2"/>
<rect x="659.2" y="318.2" width="16.2" height="18.2" fill="#5b5b5d" stroke="#0d0d0d" stroke-width="1.2"/>
<rect x="655.6" y="344.5" width="16.2" height="18.2" fill="#5b5b5d" stroke="#0d0d0d" stroke-width="1.2"/>
<rect x="637.5" y="328.7" width="16.2" height="18.2" fill="#5b5b5d" stroke="#0d0d0d" stroke-width="1.2"/>
<rect x="598.8" y="328.5" width="16.2" height="18.2" fill="#5b5b5d" stroke="#0d0d0d" stroke-width="1.2"/>
<rect x="584.9" y="321.6" width="16.2" height="18.2" fill="#5b5b5d" stroke="#0d0d0d" stroke-width="1.2"/>
<rect x="610.1" y="334.1" width="16.2" height="18.2" fill="#5b5b5d" stroke="#0d0d0d" stroke-width="1.2"/>
<rect x="591.3" y="318.8" width="16.2" height="18.2" fill="#5b5b5d" stroke="#0d0d0d" stroke-width="1.2"/>
<rect x="602.0" y="321.8" width="16.2" height="18.2" fill="#5b5b5d" stroke="#0d0d0d" stroke-width="1.2"/>
<rect x="643.1" y="325.3" width="16.2" height="18.2" fill="#5b5b5d" stroke="#0d0d0d" stroke-width="1.2"/>
<rect x="612.8" y="305.2" width="16.2" height="18.2" fill="#5b5b5d" stroke="#0d0d0d" stroke-width="1.2"/>
<rect x="622.8" y="309.7" width="16.2" height="18.2" fill="#5b5b5d" stroke="#0d0d0d" stroke-width="1.2"/>
<rect x="621.3" y="311.5" width="16.2" height="18.2" fill="#5b5b5d" stroke="#0d0d0d" stroke-width="1.2"/>
<rect x="630.8" y="337.8" width="16.2" height="18.2" fill="#5b5b5d" stroke="#0d0d0d" stroke-width="1.2"/>
<rect x="636.1" y="302.1" width="16.2" height="18.2" fill="#5b5b5d" stroke="#0d0d0d" stroke-width="1.2"/>
<rect x="594.2" y="325.3" width="16.2" height="18.2" fill="#5b5b5d" stroke="#0d0d0d" stroke-width="1.2"/>
<rect x="615.4" y="336.5" width="16.2" height="18.2" fill="#5b5b5d" stroke="#0d0d0d" stroke-width="1.2"/>
<rect x="614.1" y="301.2" width="16.2" height="18.2" fill="#5b5b5d" stroke="#0d0d0d" stroke-width="1.2"/>
<rect x="633.6" y="306.1" width="16.2" height="18.2" fill="#5b5b5d" stroke="#0d0d0d" stroke-width="1.2"/>
<rect x="632.6" y="333.5" width="16.2" height="18.2" fill="#5b5b5d" stroke="#0d0d0d" stroke-width="1.2"/>
<rect x="611.6" y="327.0" width="16.2" height="18.2" fill="#5b5b5d" stroke="#0d0d0d" stroke-width="1.2"/>
<rect x="603.3" y="298.5" width="16.2" height="18.2" fill="#5b5b5d" stroke="#0d0d0d" stroke-width="1.2"/>
<rect x="643.9" y="292.0" width="16.2" height="18.2" fill="#5b5b5d" stroke="#0d0d0d" stroke-width="1.2"/>
<rect x="610.6" y="297.2" width="16.2" height="18.2" fill="#5b5b5d" stroke="#0d0d0d" stroke-width="1.2"/>
<rect x="661.5" y="323.5" width="16.2" height="18.2" fill="#5b5b5d" stroke="#0d0d0d" stroke-width="1.2"/>
<rect x="585.7" y="286.8" width="16.2" height="18.2" fill="#5b5b5d" stroke="#0d0d0d" stroke-width="1.2"/>
<rect x="625.6" y="313.1" width="16.2" height="18.2" fill="#5b5b5d" stroke="#0d0d0d" stroke-width="1.2"/>
<rect x="656.2" y="286.3" width="16.2" height="18.2" fill="#5b5b5d" stroke="#0d0d0d" stroke-width="1.2"/>
<rect x="583.8" y="320.8" width="16.2" height="18.2" fill="#5b5b5d" stroke="#0d0d0d" stroke-width="1.2"/>
<rect x="592.3" y="292.0" width="16.2" height="18.2" fill="#5b5b5d" stroke="#0d0d0d" stroke-width="1.2"/>
<rect x="601.3" y="289.1" width="16.2" height="18.2" fill="#5b5b5d" stroke="#0d0d0d" stroke-width="1.2"/>
<rect x="618.3" y="304.1" width="16.2" height="18.2" fill="#5b5b5d" stroke="#0d0d0d" stroke-width="1.2"/>
<rect x="616.6" y="308.4" width="16.2" height="18.2" fill="#5b5b5d" stroke="#0d0d0d" stroke-width="1.2"/>
<rect x="639.6" y="298.7" width="16.2" height="18.2" fill="#5b5b5d" stroke="#0d0d0d" stroke-width="1.2"/>
<rect x="583.0" y="285.9" width="16.2" height="18.2" fill="#5b5b5d" stroke="#0d0d0d" stroke-width="1.2"/>
<rect x="626.9" y="308.9" width="16.2" height="18.2" fill="#5b5b5d" stroke="#0d0d0d" stroke-width="1.2"/>
<rect x="632.1" y="303.3" width="16.2" height="18.2" fill="#5b5b5d" stroke="#0d0d0d" stroke-width="1.2"/>
<rect x="667.8" y="285.3" width="16.2" height="18.2" fill="#5b5b5d" stroke="#0d0d0d" stroke-width="1.2"/>
<rect x="648.5" y="318.3" width="16.2" height="18.2" fill="#5b5b5d" stroke="#0d0d0d" stroke-width="1.2"/>
<rect x="598.3" y="285.3" width="16.2" height="18.2" fill="#5b5b5d" stroke="#0d0d0d" stroke-width="1.2"/>
<rect x="665.3" y="287.3" width="16.2" height="18.2" fill="#5b5b5d" stroke="#0d0d0d" stroke-width="1.2"/>
<rect x="647.4" y="289.5" width="16.2" height="18.2" fill="#5b5b5d" stroke="#0d0d0d" stroke-width="1.2"/>
<rect x="629.0" y="310.0" width="16.2" height="18.2" fill="#5b5b5d" stroke="#0d0d0d" stroke-width="1.2"/>
<rect x="625.1" y="283.2" width="16.2" height="18.2" fill="#5b5b5d" stroke="#0d0d0d" stroke-width="1.2"/>
<rect x="600.3" y="298.1" width="16.2" height="18.2" fill="#5b5b5d" stroke="#0d0d0d" stroke-width="1.2"/>
<rect x="618.6" y="275.1" width="16.2" height="18.2" fill="#5b5b5d" stroke="#0d0d0d" stroke-width="1.2"/>
<rect x="638.4" y="304.7" width="16.2" height="18.2" fill="#5b5b5d" stroke="#0d0d0d" stroke-width="1.2"/>
<rect x="608.8" y="303.5" width="16.2" height="18.2" fill="#5b5b5d" stroke="#0d0d0d" stroke-width="1.2"/>
<rect x="642.6" y="303.7" width="16.2" height="18.2" fill="#5b5b5d" stroke="#0d0d0d" stroke-width="1.2"/>
<rect x="653.9" y="292.6" width="16.2" height="18.2" fill="#5b5b5d" stroke="#0d0d0d" stroke-width="1.2"/>
<rect x="614.1" y="272.7" width="16.2" height="18.2" fill="#5b5b5d" stroke="#0d0d0d" stroke-width="1.2"/>
<rect x="634.4" y="276.5" width="16.2" height="18.2" fill="#5b5b5d" stroke="#0d0d0d" stroke-width="1.2"/>
<rect x="653.4" y="269.6" width="16.2" height="18.2" fill="#5b5b5d" stroke="#0d0d0d" stroke-width="1.2"/>
<rect x="661.1" y="287.6" width="16.2" height="18.2" fill="#5b5b5d" stroke="#0d0d0d" stroke-width="1.2"/>
<rect x="629.4" y="279.2" width="16.2" height="18.2" fill="#5b5b5d" stroke="#0d0d0d" stroke-width="1.2"/>
<rect x="593.3" y="284.8" width="16.2" height="18.2" fill="#5b5b5d" stroke="#0d0d0d" stroke-width="1.2"/>
<rect x="662.2" y="264.6" width="16.2" height="18.2" fill="#5b5b5d" stroke="#0d0d0d" stroke-width="1.2"/>
<rect x="589.0" y="286.8" width="16.2" height="18.2" fill="#5b5b5d" stroke="#0d0d0d" stroke-width="1.2"/>
<rect x="646.3" y="298.6" width="16.2" height="18.2" fill="#5b5b5d" stroke="#0d0d0d" stroke-width="1.2"/>
<rect x="632.1" y="273.9" width="16.2" height="18.2" fill="#5b5b5d" stroke="#0d0d0d" stroke-width="1.2"/>
<rect x="646.0" y="265.4" width="16.2" height="18.2" fill="#5b5b5d" stroke="#0d0d0d" stroke-width="1.2"/>
<rect x="603.3" y="266.6" width="16.2" height="18.2" fill="#5b5b5d" stroke="#0d0d0d" stroke-width="1.2"/>
<rect x="650.6" y="295.6" width="16.2" height="18.2" fill="#5b5b5d" stroke="#0d0d0d" stroke-width="1.2"/>
<rect x="606.4" y="292.4" width="16.2" height="18.2" fill="#5b5b5d" stroke="#0d0d0d" stroke-width="1.2"/>
<rect x="647.8" y="271.0" width="16.2" height="18.2" fill="#5b5b5d" stroke="#0d0d0d" stroke-width="1.2"/>
<rect x="628.0" y="278.7" width="16.2" height="18.2" fill="#5b5b5d" stroke="#0d0d0d" stroke-width="1.2"/>
<rect x="596.4" y="269.2" width="16.2" height="18.2" fill="#5b5b5d" stroke="#0d0d0d" stroke-width="1.2"/>
<rect x="584.6" y="262.8" width="16.2" height="18.2" fill="#5b5b5d" stroke="#0d0d0d" stroke-width="1.2"/>
<rect x="602.3" y="271.0" width="16.2" height="18.2" fill="#5b5b5d" stroke="#0d0d0d" stroke-width="1.2"/>
<rect x="636.8" y="271.1" width="16.2" height="18.2" fill="#5b5b5d" stroke="#0d0d0d" stroke-width="1.2"/>
<rect x="595.4" y="294.4" width="16.2" height="18.2" fill="#5b5b5d" stroke="#0d0d0d" stroke-width="1.2"/>
<rect x="595.5" y="261.1" width="16.2" height="18.2" fill="#5b5b5d" stroke="#0d0d0d" stroke-width="1.2"/>
<rect x="657.7" y="267.1" width="16.2" height="18.2" fill="#5b5b5d" stroke="#0d0d0d" stroke-width="1.2"/>
<rect x="608.2" y="267.6" width="16.2" height="18.2" fill="#5b5b5d" stroke="#0d0d0d" stroke-width="1.2"/>
<rect x="587.8" y="288.5" width="16.2" height="18.2" fill="#5b5b5d" stroke="#0d0d0d" stroke-width="1.2"/>
<rect x="606.7" y="272.1" width="16.2" height="18.2" fill="#5b5b5d" stroke="#0d0d0d" stroke-width="1.2"/>
<rect x="658.2" y="290.0" width="16.2" height="18.2" fill="#5b5b5d" stroke="#0d0d0d" stroke-width="1.2"/>
<rect x="624.7" y="255.5" width="16.2" height="18.2" fill="#5b5b5d" stroke="#0d0d0d" stroke-width="1.2"/>
<rect x="622.3" y="278.7" width="16.2" height="18.2" fill="#5b5b5d" stroke="#0d0d0d" stroke-width="1.2"/>
<rect x="590.1" y="260.9" width="16.2" height="18.2" fill="#5b5b5d" stroke="#0d0d0d" stroke-width="1.2"/>
<rect x="663.3" y="287.4" width="16.2" height="18.2" fill="#5b5b5d" stroke="#0d0d0d" stroke-width="1.2"/>
<rect x="651.7" y="286.8" width="16.2" height="18.2" fill="#5b5b5d" stroke="#0d0d0d" stroke-width="1.2"/>
<rect x="592.7" y="266.3" width="16.2" height="18.2" fill="#5b5b5d" stroke="#0d0d0d" stroke-width="1.2"/>
<rect x="631.4" y="251.8" width="16.2" height="18.2" fill="#5b5b5d" stroke="#0d0d0d" stroke-width="1.2"/>
<rect x="667.5" y="260.2" width="16.2" height="18.2" fill="#5b5b5d" stroke="#0d0d0d" stroke-width="1.2"/>
<rect x="607.4" y="245.3" width="16.2" height="18.2" fill="#5b5b5d" stroke="#0d0d0d" stroke-width="1.2"/>
<rect x="621.1" y="281.0" width="16.2" height="18.2" fill="#5b5b5d" stroke="#0d0d0d" stroke-width="1.2"/>
<rect x="613.0" y="250.2" width="16.2" height="18.2" fill="#5b5b5d" stroke="#0d0d0d" stroke-width="1.2"/>
<rect x="582.7" y="260.9" width="16.2" height="18.2" fill="#5b5b5d" stroke="#0d0d0d" stroke-width="1.2"/>
<rect x="615.2" y="278.9" width="16.2" height="18.2" fill="#5b5b5d" stroke="#0d0d0d" stroke-width="1.2"/>
<rect x="611.5" y="274.8" width="16.2" height="18.2" fill="#5b5b5d" stroke="#0d0d0d" stroke-width="1.2"/>
<rect x="644.0" y="274.0" width="16.2" height="18.2" fill="#5b5b5d" stroke="#0d0d0d" stroke-width="1.2"/>
<rect x="597.6" y="232.4" width="16.2" height="18.2" fill="#5b5b5d" stroke="#0d0d0d" stroke-width="1.2"/>
<rect x="628.0" y="251.4" width="16.2" height="18.2" fill="#5b5b5d" stroke="#0d0d0d" stroke-width="1.2"/>
<rect x="663.9" y="233.2" width="16.2" height="18.2" fill="#5b5b5d" stroke="#0d0d0d" stroke-width="1.2"/>
<rect x="639.7" y="273.7" width="16.2" height="18.2" fill="#5b5b5d" stroke="#0d0d0d" stroke-width="1.2"/>
<rect x="604.2" y="236.7" width="16.2" height="18.2" fill="#5b5b5d" stroke="#0d0d0d" stroke-width="1.2"/>
<rect x="656.2" y="260.1" width="16.2" height="18.2" fill="#5b5b5d" stroke="#0d0d0d" stroke-width="1.2"/>
<rect x="664.7" y="262.2" width="16.2" height="18.2" fill="#5b5b5d" stroke="#0d0d0d" stroke-width="1.2"/>
<rect x="586.4" y="233.6" width="16.2" height="18.2" fill="#5b5b5d" stroke="#0d0d0d" stroke-width="1.2"/>
<rect x="588.6" y="235.1" width="16.2" height="18.2" fill="#5b5b5d" stroke="#0d0d0d" stroke-width="1.2"/>
<rect x="587.4" y="262.7" width="16.2" height="18.2" fill="#5b5b5d" stroke="#0d0d0d" stroke-width="1.2"/>
<rect x="642.6" y="244.0" width="16.2" height="18.2" fill="#5b5b5d" stroke="#0d0d0d" stroke-width="1.2"/>
<rect x="591.9" y="230.3" width="16.2" height="18.2" fill="#5b5b5d" stroke="#0d0d0d" stroke-width="1.2"/>
<rect x="661.2" y="233.4" width="16.2" height="18.2" fill="#5b5b5d" stroke="#0d0d0d" stroke-width="1.2"/>
<rect x="658.0" y="229.6" width="16.2" height="18.2" fill="#5b5b5d" stroke="#0d0d0d" stroke-width="1.2"/>
<rect x="641.4" y="266.4" width="16.2" height="18.2" fill="#5b5b5d" stroke="#0d0d0d" stroke-width="1.2"/>
<rect x="599.9" y="258.6" width="16.2" height="18.2" fill="#5b5b5d" stroke="#0d0d0d" stroke-width="1.2"/>
<rect x="650.0" y="261.0" width="16.2" height="18.2" fill="#5b5b5d" stroke="#0d0d0d" stroke-width="1.2"/>
<rect x="624.5" y="227.6" width="16.2" height="18.2" fill="#5b5b5d" stroke="#0d0d0d" stroke-width="1.2"/>
<rect x="646.6" y="234.7" width="16.2" height="18.2" fill="#5b5b5d" stroke="#0d0d0d" stroke-width="1.2"/>
<rect x="621.1" y="221.9" width="16.2" height="18.2" fill="#5b5b5d" stroke="#0d0d0d" stroke-width="1.2"/>
<rect x="660.4" y="262.0" width="16.2" height="18.2" fill="#5b5b5d" stroke="#0d0d0d" stroke-width="1.2"/>
<rect x="600.4" y="215.9" width="16.2" height="18.2" fill="#5b5b5d" stroke="#0d0d0d" stroke-width="1.2"/>
<rect x="640.6" y="240.9" width="16.2" height="18.2" fill="#5b5b5d" stroke="#0d0d0d" stroke-width="1.2"/>
<rect x="619.5" y="251.1" width="16.2" height="18.2" fill="#5b5b5d" stroke="#0d0d0d" stroke-width="1.2"/>
<rect x="637.8" y="248.8" width="16.2" height="18.2" fill="#5b5b5d" stroke="#0d0d0d" stroke-width="1.2"/>
<rect x="655.3" y="239.2" width="16.2" height="18.2" fill="#5b5b5d" stroke="#0d0d0d" stroke-width="1.2"/>
<rect x="652.8" y="232.2" width="16.2" height="18.2" fill="#5b5b5d" stroke="#0d0d0d" stroke-width="1.2"/>
<rect x="583.0" y="231.5" width="16.2" height="18.2" fill="#5b5b5d" stroke="#0d0d0d" stroke-width="1.2"/>
<rect x="601.8" y="241.7" width="16.2" height="18.2" fill="#5b5b5d" stroke="#0d0d0d" stroke-width="1.2"/>
<rect x="621.9" y="249.1" width="16.2" height="18.2" fill="#5b5b5d" stroke="#0d0d0d" stroke-width="1.2"/>
<rect x="642.3" y="220.4" width="16.2" height="18.2" fill="#5b5b5d" stroke="#0d0d0d" stroke-width="1.2"/>
<rect x="595.9" y="236.7" width="16.2" height="18.2" fill="#5b5b5d" stroke="#0d0d0d" stroke-width="1.2"/>
<rect x="633.7" y="247.0" width="16.2" height="18.2" fill="#5b5b5d" stroke="#0d0d0d" stroke-width="1.2"/>
<rect x="649.1" y="241.9" width="16.2" height="18.2" fill="#5b5b5d" stroke="#0d0d0d" stroke-width="1.2"/>
<rect x="616.4" y="246.0" width="16.2" height="18.2" fill="#5b5b5d" stroke="#0d0d0d" stroke-width="1.2"/>
<rect x="666.7" y="206.9" width="16.2" height="18.2" fill="#5b5b5d" stroke="#0d0d0d" stroke-width="1.2"/>
<rect x="654.2" y="205.5" width="16.2" height="18.2" fill="#5b5b5d" stroke="#0d0d0d" stroke-width="1.2"/>
<rect x="610.6" y="240.2" width="16.2" height="18.2" fill="#5b5b5d" stroke="#0d0d0d" stroke-width="1.2"/>
<rect x="666.7" y="230.7" width="16.2" height="18.2" fill="#5b5b5d" stroke="#0d0d0d" stroke-width="1.2"/>
<rect x="658.1" y="210.9" width="16.2" height="18.2" fill="#5b5b5d" stroke="#0d0d0d" stroke-width="1.2"/>
<rect x="663.2" y="207.7" width="16.2" height="18.2" fill="#5b5b5d" stroke="#0d0d0d" stroke-width="1.2"/>
<rect x="582.6" y="206.5" width="16.2" height="18.2" fill="#5b5b5d" stroke="#0d0d0d" stroke-width="1.2"/>
<rect x="629.7" y="223.4" width="16.2" height="18.2" fill="#5b5b5d" stroke="#0d0d0d" stroke-width="1.2"/>
<rect x="625.2" y="195.2" width="16.2" height="18.2" fill="#5b5b5d" stroke="#0d0d0d" stroke-width="1.2"/>
<rect x="607.7" y="218.3" width="16.2" height="18.2" fill="#5b5b5d" stroke="#0d0d0d" stroke-width="1.2"/>
<rect x="611.8" y="215.4" width="16.2" height="18.2" fill="#5b5b5d" stroke="#0d0d0d" stroke-width="1.2"/>
<rect x="637.6" y="214.0" width="16.2" height="18.2" fill="#5b5b5d" stroke="#0d0d0d" stroke-width="1.2"/>
<rect x="646.4" y="209.1" width="16.2" height="18.2" fill="#5b5b5d" stroke="#0d0d0d" stroke-width="1.2"/>
<rect x="650.6" y="215.6" width="16.2" height="18.2" fill="#5b5b5d" stroke="#0d0d0d" stroke-width="1.2"/>
<rect x="633.4" y="223.5" width="16.2" height="18.2" fill="#5b5b5d" stroke="#0d0d0d" stroke-width="1.2"/>
<rect x="617.2" y="223.9" width="16.2" height="18.2" fill="#5b5b5d" stroke="#0d0d0d" stroke-width="1.2"/>
<rect x="648.6" y="188.3" width="16.2" height="18.2" fill="#5b5b5d" stroke="#0d0d0d" stroke-width="1.2"/>
<rect x="655.5" y="178.4" width="16.2" height="18.2" fill="#5b5b5d" stroke="#0d0d0d" stroke-width="1.2"/>
<rect x="603.6" y="209.6" width="16.2" height="18.2" fill="#5b5b5d" stroke="#0d0d0d" stroke-width="1.2"/>
<rect x="616.8" y="194.7" width="16.2" height="18.2" fill="#5b5b5d" stroke="#0d0d0d" stroke-width="1.2"/>
<rect x="590.9" y="212.6" width="16.2" height="18.2" fill="#5b5b5d" stroke="#0d0d0d" stroke-width="1.2"/>
<rect x="595.5" y="207.9" width="16.2" height="18.2" fill="#5b5b5d" stroke="#0d0d0d" stroke-width="1.2"/>
<rect x="588.1" y="208.4" width="16.2" height="18.2" fill="#5b5b5d" stroke="#0d0d0d" stroke-width="1.2"/>
<rect x="663.5" y="179.7" width="16.2" height="18.2" fill="#5b5b5d" stroke="#0d0d0d" stroke-width="1.2"/>
<rect x="609.9" y="183.8" width="16.2" height="18.2" fill="#5b5b5d" stroke="#0d0d0d" stroke-width="1.2"/>
<rect x="601.6" y="186.1" width="16.2" height="18.2" fill="#5b5b5d" stroke="#0d0d0d" stroke-width="1.2"/>
<rect x="632.8" y="196.1" width="16.2" height="18.2" fill="#5b5b5d" stroke="#0d0d0d" stroke-width="1.2"/>
<rect x="586.5" y="180.4" width="16.2" height="18.2" fill="#5b5b5d" stroke="#0d0d0d" stroke-width="1.2"/>
<rect x="644.6" y="161.1" width="16.2" height="18.2" fill="#5b5b5d" stroke="#0d0d0d" stroke-width="1.2"/>
<rect x="640.1" y="184.2" width="16.2" height="18.2" fill="#5b5b5d" stroke="#0d0d0d" stroke-width="1.2"/>
<rect x="594.4" y="177.5" width="16.2" height="18.2" fill="#5b5b5d" stroke="#0d0d0d" stroke-width="1.2"/>
<rect x="606.0" y="154.9" width="16.2" height="18.2" fill="#5b5b5d" stroke="#0d0d0d" stroke-width="1.2"/>
<rect x="625.6" y="171.4" width="16.2" height="18.2" fill="#5b5b5d" stroke="#0d0d0d" stroke-width="1.2"/>
<rect x="586.5" y="147.4" width="16.2" height="18.2" fill="#5b5b5d" stroke="#0d0d0d" stroke-width="1.2"/>
<rect x="663.8" y="151.0" width="16.2" height="18.2" fill="#5b5b5d" stroke="#0d0d0d" stroke-width="1.2"/>
</g>
<g stroke="#e7312a" stroke-width="4.2">
<line x1="124.8" y1="340.9" x2="226.2" y2="340.9"/>
<line x1="277" y1="328.8" x2="378.5" y2="328.8"/>
<line x1="429.8" y1="323.1" x2="531.2" y2="323.1"/>
<line x1="582.2" y1="306.8" x2="683.8" y2="306.8"/>
</g>
<g stroke="#111" stroke-width="2.3" fill="none" stroke-linecap="butt">
<path d="M91.9 32V529"/>
<path d="M85.5 528H703"/>
<path d="M80 49.6H92"/>
<path d="M85.5 161.1H92"/>
<path d="M85.5 133.0H92"/>
<path d="M85.5 113.1H92"/>
<path d="M85.5 97.7H92"/>
<path d="M85.5 85.0H92"/>
<path d="M85.5 74.4H92"/>
<path d="M85.5 65.1H92"/>
<path d="M85.5 56.9H92"/>
<path d="M80 209.2H92"/>
<path d="M85.5 320.6H92"/>
<path d="M85.5 292.5H92"/>
<path d="M85.5 272.6H92"/>
<path d="M85.5 257.2H92"/>
<path d="M85.5 244.5H92"/>
<path d="M85.5 233.9H92"/>
<path d="M85.5 224.6H92"/>
<path d="M85.5 216.4H92"/>
<path d="M80 368.6H92"/>
<path d="M85.5 480.1H92"/>
<path d="M85.5 452.0H92"/>
<path d="M85.5 432.1H92"/>
<path d="M85.5 416.7H92"/>
<path d="M85.5 404.0H92"/>
<path d="M85.5 393.4H92"/>
<path d="M85.5 384.1H92"/>
<path d="M85.5 375.9H92"/>
</g>
<text transform="translate(44.73 50.0) scale(0.97 1)" font-size="30.5" letter-spacing="0.034">10</text>
<text x="76.58" y="42.8" font-size="22.5" letter-spacing="0.000">6</text>
<text transform="translate(44.73 208.9) scale(0.97 1)" font-size="30.5" letter-spacing="-0.275">10</text>
<text x="77.10" y="201.9" font-size="22.5" letter-spacing="0.000">5</text>
<text transform="translate(42.93 370.1) scale(0.97 1)" font-size="30.5" letter-spacing="-0.378">10</text>
<text x="74.85" y="363.2" font-size="22.5" letter-spacing="0.000">4</text>
<text transform="translate(44.13 526.5) scale(0.97 1)" font-size="30.5" letter-spacing="-0.275">10</text>
<text x="76.73" y="519.3" font-size="22.5" letter-spacing="0.000">3</text>
<text transform="translate(23.8 604.3) rotate(-90) scale(1 1.035)" font-size="32" textLength="605" lengthAdjust="spacing">Myc-RPA32 signal intensity/nucleus (AU)</text>
<g stroke="#111" stroke-width="1.9" fill="none">
<path d="M177.5 93.3V85H328.2V93.3"/>
<path d="M328.2 109.2V101.7H633.9V110"/>
<path d="M177.8 146V138H480.3V146"/>
<path d="M480.3 81V72.8H633.9V81"/>
</g>
<text x="247.04" y="89.5" font-size="26.5" letter-spacing="0.000" style="stroke-width:0.5px">*</text>
<text x="309.33" y="142.2" font-size="26.5" letter-spacing="0.152" style="stroke-width:0.5px">****</text>
<text x="462.03" y="105.8" font-size="26.5" letter-spacing="0.019" style="stroke-width:0.5px">****</text>
<text x="544.03" y="76.5" font-size="26.5" letter-spacing="0.019" style="stroke-width:0.5px">****</text>
<text transform="translate(118.66 473.0) scale(0.96 1)" font-size="32" letter-spacing="-0.081">median</text>
<text transform="translate(123.69 512.8) scale(0.915 1)" font-size="32.9" letter-spacing="-0.017">14,068</text>
<text transform="translate(278.36 473.0) scale(0.96 1)" font-size="32" letter-spacing="-0.164">median</text>
<text transform="translate(283.59 512.8) scale(0.915 1)" font-size="32.9" letter-spacing="-0.258">16,693</text>
<text transform="translate(431.96 473.0) scale(0.96 1)" font-size="32" letter-spacing="-0.101">median</text>
<text transform="translate(436.79 512.8) scale(0.915 1)" font-size="32.9" letter-spacing="-0.258">18,170</text>
<text transform="translate(584.96 473.0) scale(0.96 1)" font-size="32" letter-spacing="-0.164">median</text>
<text transform="translate(587.69 512.8) scale(0.915 1)" font-size="32.9" letter-spacing="0.419">22,896</text>
<text x="151.00" y="563.9" font-size="32.5" letter-spacing="0.188">vec</text>
<text x="272.30" y="563.9" font-size="32.5" letter-spacing="0.307">Stn1sh2</text>
<text x="466.00" y="563.9" font-size="32.5" letter-spacing="0.138">vec</text>
<text x="576.40" y="563.9" font-size="32.5" letter-spacing="0.374">Stn1sh2</text>
<g stroke="#111" stroke-width="2">
<path d="M126 576.3H376.4"/>
<path d="M432.8 576.3H682.3"/>
</g>
<text x="217.45" y="612.2" font-size="32.5" letter-spacing="0.410">no IR</text>
<text x="491.52" y="612.2" font-size="32.5" letter-spacing="0.273">10 Gy 6 h</text>
</svg>
</body></html>
